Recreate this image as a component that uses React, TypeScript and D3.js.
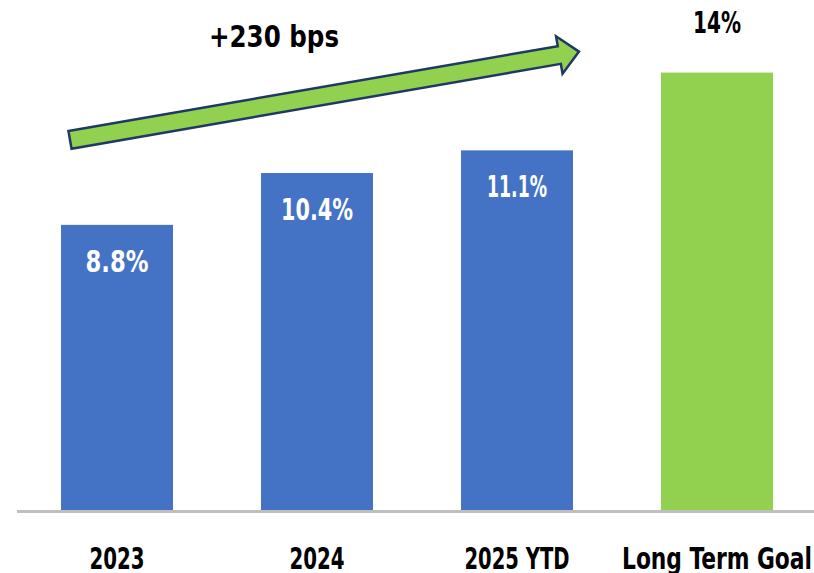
import React from "react";
import * as d3 from "d3";

const categories = ["2023", "2024", "2025 YTD", "Long Term Goal"];
const values = [8.8, 10.4, 11.1, 13.5];
const valueLabels = ["8.8%", "10.4%", "11.1%", "14%"];
const isGoal = [false, false, false, true];
const annotation = "+230 bps";

// style: rendered widths of the condensed labels (px)
const TEXT_WIDTH: Record<string, number> = {
  "8.8%": 63, "10.4%": 72, "11.1%": 60, "14%": 48,
  "2023": 55, "2024": 55, "2025 YTD": 105, "Long Term Goal": 190,
  "+230 bps": 130,
};

const W = 814;
const H = 573;
const FONT = "'DejaVu Sans Condensed', 'DejaVu Sans', sans-serif";

function T(props: { x: number; y: number; text: string; size: number; fill: string }) {
  const { x, y, text, size, fill } = props;
  return (
    <text x={x} y={y} textAnchor="middle" fontFamily={FONT} fontWeight="bold" fontSize={size} fill={fill}
      textLength={TEXT_WIDTH[text]} lengthAdjust="spacingAndGlyphs">{text}</text>
  );
}

export default function App() {
  const x = d3.scaleBand<string>().domain(categories).range([17, 817]).paddingInner(0.44).paddingOuter(0.22);
  const y = d3.scaleLinear().domain([0, 15]).range([510, 24]);
  const bw = x.bandwidth();

  // arrow annotation anchored to the bars
  const tx = (x(categories[0]) as number) + 9;
  const ty = y(values[0]) - 85;
  const hx = (x(categories[2]) as number) + bw + 6;
  const hy = y(values[3]) - 21;
  const len = Math.hypot(hx - tx, hy - ty);
  const ang = (Math.atan2(hy - ty, hx - tx) * 180) / Math.PI;
  const sw = 9;
  const hw = 19;
  const hl = 20;
  const arrowPts: [number, number][] = [
    [0, -sw], [len - hl, -sw], [len - hl, -hw], [len, 0], [len - hl, hw], [len - hl, sw], [0, sw],
  ];
  const arrowPath = d3.line()(arrowPts) + "Z";

  return (
    <svg width={W} height={H} style={{ position: "absolute", left: 0, top: 0, background: "#fff" }}>
      {categories.map((c, i) => (
        <rect key={c} x={x(c)} y={y(values[i])} width={bw} height={y(0) - y(values[i])}
          fill={isGoal[i] ? "#92D050" : "#4472C4"} />
      ))}
      <line x1={17} x2={W} y1={y(0) + 1.5} y2={y(0) + 1.5} stroke="#BFBFBF" strokeWidth={3} />
      {categories.map((c, i) => (
        <T key={"v" + c} x={(x(c) as number) + bw / 2}
          y={isGoal[i] ? y(values[i]) - 40 : y(values[i]) + 47}
          text={valueLabels[i]} size={31} fill={isGoal[i] ? "#000" : "#fff"} />
      ))}
      {categories.map((c) => (
        <T key={"c" + c} x={(x(c) as number) + bw / 2} y={569} text={c} size={31} fill="#000" />
      ))}
      <path d={arrowPath} transform={`translate(${tx},${ty}) rotate(${ang})`} fill="#92D050"
        stroke="#1F3864" strokeWidth={2.5} strokeLinejoin="miter" />
      <T x={274} y={47} text={annotation} size={31} fill="#000" />
    </svg>
  );
}
